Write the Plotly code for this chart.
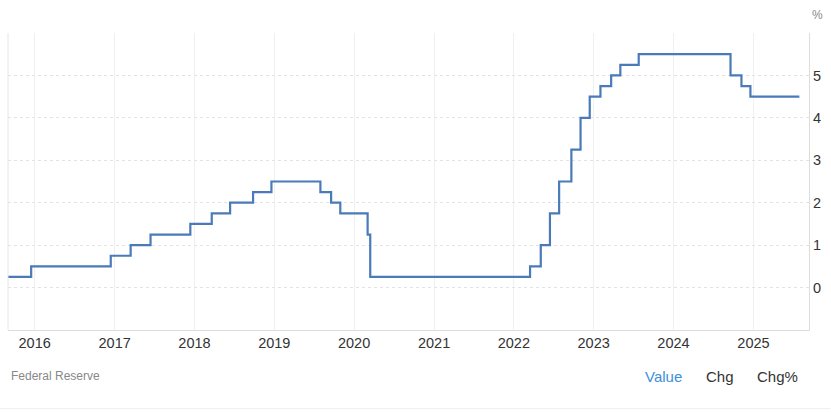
import plotly.graph_objects as go

# Fed funds target rate (upper bound), from the chart's left edge through FOMC decisions
dates = [
    "2015-09-01", "2015-12-16", "2016-12-14", "2017-03-15", "2017-06-14",
    "2017-12-13", "2018-03-21", "2018-06-13", "2018-09-26", "2018-12-19",
    "2019-07-31", "2019-09-18", "2019-10-30", "2020-03-03", "2020-03-15",
    "2022-03-16", "2022-05-04", "2022-06-15", "2022-07-27", "2022-09-21",
    "2022-11-02", "2022-12-14", "2023-02-01", "2023-03-22", "2023-05-03",
    "2023-07-26", "2024-09-18", "2024-11-07", "2024-12-18", "2025-07-30",
]
rates = [
    0.25, 0.50, 0.75, 1.00, 1.25,
    1.50, 1.75, 2.00, 2.25, 2.50,
    2.25, 2.00, 1.75, 1.25, 0.25,
    0.50, 1.00, 1.75, 2.50, 3.25,
    4.00, 4.50, 4.75, 5.00, 5.25,
    5.50, 5.00, 4.75, 4.50, 4.50,
]

year_ticks = [f"{y}-01-01" for y in range(2016, 2026)]
year_labels = [str(y) for y in range(2016, 2026)]
y_ticks = [-1, 0, 1, 2, 3, 4, 5, 6]
y_labels = ["", "0", "1", "2", "3", "4", "5", ""]

FONT = "Arial, Liberation Sans, sans-serif"

fig = go.Figure()

fig.add_trace(
    go.Scatter(
        x=dates,
        y=rates,
        mode="lines",
        line=dict(color="#4a7ab8", width=2.2, shape="hv"),
        hoverinfo="x+y",
    )
)

fig.update_layout(
    width=831,
    height=412,
    margin=dict(l=8, r=22, t=33, b=82),
    paper_bgcolor="white",
    plot_bgcolor="white",
    showlegend=False,
    font=dict(family=FONT, color="#333333", size=14),
    xaxis=dict(
        range=["2015-09-01", "2025-09-12"],
        tickvals=year_ticks,
        ticktext=year_labels,
        showgrid=True,
        gridcolor="#f0f0f0",
        gridwidth=1,
        showline=True,
        linecolor="#dddddd",
        linewidth=1,
        ticks="",
        tickfont=dict(size=14.5, color="#333333"),
        zeroline=False,
    ),
    yaxis=dict(
        side="right",
        range=[-1, 6],
        tickvals=y_ticks,
        ticktext=y_labels,
        showgrid=True,
        gridcolor="#e3e3e3",
        griddash="dot",
        gridwidth=1,
        showline=True,
        linecolor="#dddddd",
        linewidth=1,
        ticks="",
        tickfont=dict(size=14.5, color="#333333"),
        zeroline=False,
    ),
)

# left border of plot
fig.add_shape(type="line", xref="paper", yref="paper", x0=0, x1=0, y0=0, y1=1,
              line=dict(color="#e6e6e6", width=1))
# faint separator at page bottom
fig.add_shape(type="line", xref="paper", yref="paper", x0=-0.01, x1=1.027,
              y0=-0.265, y1=-0.265, line=dict(color="#eeeeee", width=1))

fig.add_annotation(text="%", xref="paper", yref="paper", x=1.0, y=1.0,
                   xanchor="left", yanchor="bottom", xshift=1, yshift=9,
                   showarrow=False, font=dict(size=12, color="#888888"))
fig.add_annotation(text="Federal Reserve", xref="paper", yref="paper", x=0, y=-0.155,
                   xanchor="left", yanchor="middle", xshift=1,
                   showarrow=False, font=dict(size=12, color="#888888"))
fig.add_annotation(text="Value", xref="paper", yref="paper", x=0.793, y=-0.155,
                   xanchor="left", yanchor="middle",
                   showarrow=False, font=dict(size=15, color="#3d8fd9"))
fig.add_annotation(text="Chg", xref="paper", yref="paper", x=0.869, y=-0.155,
                   xanchor="left", yanchor="middle",
                   showarrow=False, font=dict(size=15, color="#333333"))
fig.add_annotation(text="Chg%", xref="paper", yref="paper", x=0.932, y=-0.155,
                   xanchor="left", yanchor="middle",
                   showarrow=False, font=dict(size=15, color="#333333"))

# drop the default page margin so the figure fills the window exactly
fig.write_html("out.html", config={"displayModeBar": False},
               post_script="document.body.style.margin='0';")
